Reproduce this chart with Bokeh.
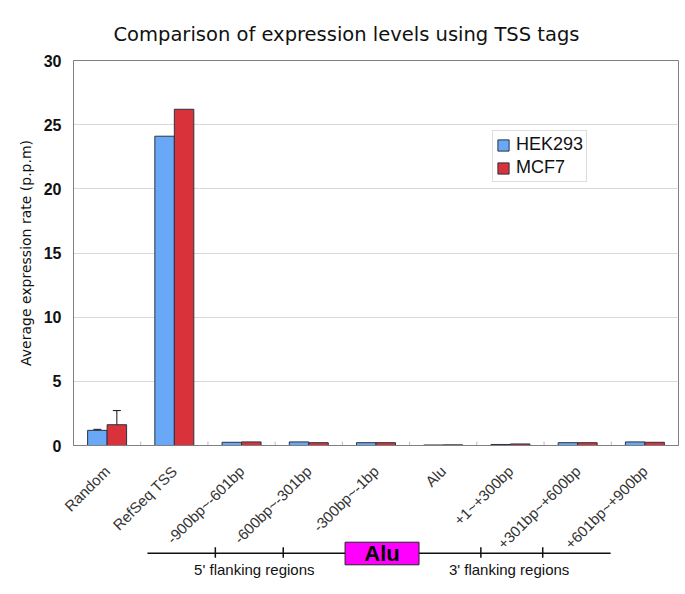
from bokeh.plotting import figure
from bokeh.models import (ColumnDataSource, FactorRange, Range1d, Whisker, TeeHead,
                          Legend, LegendItem, Title)
from bokeh.layouts import column
from bokeh.transform import dodge
from bokeh.core.properties import value
from bokeh.embed import file_html
from bokeh.resources import INLINE

# ---------------- data ----------------
categories = ["Random", "RefSeq TSS", "-900bp~-601bp", "-600bp~-301bp",
              "-300bp~-1bp", "Alu", "+1~+300bp", "+301bp~+600bp",
              "+601bp~+900bp"]
hek293 = [1.18, 24.1, 0.25, 0.28, 0.22, 0.04, 0.08, 0.22, 0.28]
mcf7 = [1.62, 26.2, 0.28, 0.22, 0.22, 0.05, 0.12, 0.22, 0.25]
# error bars (lower, upper); zero = no visible bar
hek293_err_low = [1.10, 0, 0, 0, 0, 0, 0, 0, 0]
hek293_err_high = [1.26, 0, 0, 0, 0, 0, 0, 0, 0]
mcf7_err_low = [0.47, 0, 0, 0, 0, 0, 0, 0, 0]
mcf7_err_high = [2.72, 0, 0, 0, 0, 0, 0, 0, 0]
y_ticks = [0, 5, 10, 15, 20, 25, 30]

series_names = ["HEK293", "MCF7"]
colors = ["#68A8F6", "#D9323B"]

W = 680
LEFT = 73
RIGHT = 2
H1 = 561
H2 = 50
D_OVERLAP = 25
OFF = 0.145
BW = 0.29

src = ColumnDataSource(dict(cats=categories, hek=hek293, mcf=mcf7))

xr = FactorRange(*categories, range_padding=0)
p = figure(x_range=xr, y_range=Range1d(0, 30), width=W, height=H1,
           output_backend="svg", toolbar_location=None,
           min_border_left=LEFT, min_border_right=RIGHT,
           min_border_top=60, min_border_bottom=10)

p.title = Title(text="Comparison of expression levels using TSS tags",
                text_font="DejaVu Sans", text_font_size="19.5px",
                text_font_style="normal", text_color="#111111",
                align="left", offset=40, standoff=29)

r1 = p.vbar(x=dodge("cats", -OFF, range=p.x_range), top="hek", width=BW,
            source=src, fill_color=colors[0], line_color="#2a3340", line_width=1)
r2 = p.vbar(x=dodge("cats", OFF, range=p.x_range), top="mcf", width=BW,
            source=src, fill_color=colors[1], line_color="#2a3340", line_width=1)

# error bars
for lows, highs, off in [(hek293_err_low, hek293_err_high, -OFF),
                         (mcf7_err_low, mcf7_err_high, OFF)]:
    idx = [i for i in range(len(categories)) if highs[i] > 0]
    es = ColumnDataSource(dict(base=[i + 0.5 + off for i in idx],
                               lower=[lows[i] for i in idx],
                               upper=[highs[i] for i in idx]))
    w = Whisker(base="base", lower="lower", upper="upper", source=es,
                line_color="#111111", line_width=1,
                upper_head=TeeHead(size=8, line_color="#111111", line_width=1),
                lower_head=TeeHead(size=8, line_color="#111111", line_width=1))
    p.add_layout(w)

# small category separator ticks
seps = list(range(1, len(categories)))
p.segment(x0=seps, x1=seps, y0=[0] * len(seps), y1=[0.3] * len(seps),
          line_color="#bbbbbb", line_width=1)

legend = Legend(items=[LegendItem(label=series_names[0], renderers=[r1]),
                       LegendItem(label=series_names[1], renderers=[r2])],
                location=(419, 263))
legend.label_text_font = "Liberation Sans"
legend.label_text_font_size = "18px"
legend.label_text_color = "#111111"
legend.glyph_width = 14
legend.glyph_height = 14
legend.label_height = 18
legend.spacing = 2
legend.padding = 3
legend.margin = 0
legend.label_standoff = 6
legend.border_line_color = "#bbbbbb"
legend.background_fill_alpha = 1
p.add_layout(legend, "center")

p.outline_line_color = "#808080"
p.xgrid.grid_line_color = None
p.ygrid.grid_line_color = "#d8d8d8"
p.ygrid.ticker = y_ticks

p.yaxis.ticker = y_ticks
p.yaxis.axis_label = "Average expression rate (p.p.m)"
p.yaxis.axis_label_text_font = "DejaVu Sans"
p.yaxis.axis_label_text_font_size = "14px"
p.yaxis.axis_label_text_font_style = "normal"
p.yaxis.axis_label_text_color = "#111111"
p.yaxis.axis_label_standoff = 7
p.yaxis.major_label_text_font = "Liberation Sans"
p.yaxis.major_label_text_font_size = "16px"
p.yaxis.major_label_text_font_style = "bold"
p.yaxis.major_label_text_color = "#111111"
p.yaxis.major_label_standoff = 12
p.yaxis.major_tick_out = 0
p.yaxis.major_tick_in = 0
p.yaxis.minor_tick_out = 0
p.yaxis.minor_tick_in = 0
p.yaxis.major_tick_line_color = None
p.yaxis.minor_tick_line_color = None
p.yaxis.axis_line_color = "#808080"

p.xaxis.major_label_orientation = 0.785398
p.xaxis.major_label_text_font = "Liberation Sans"
p.xaxis.major_label_text_font_size = "15px"
p.xaxis.major_label_text_color = "#333333"
p.xaxis.major_label_standoff = 17
p.xaxis.major_tick_line_color = None
p.xaxis.axis_line_color = "#808080"

# ---------------- lower diagram (overlaps the label area, transparent) ----------------
d = figure(x_range=xr, y_range=Range1d(0, H2), width=W, height=H2,
           output_backend="svg", toolbar_location=None,
           min_border_left=LEFT, min_border_right=RIGHT,
           min_border_top=0, min_border_bottom=0,
           margin=(-D_OVERLAP, 0, 0, 0))
d.axis.visible = False
d.grid.visible = False
d.outline_line_color = None
d.background_fill_color = None
d.border_fill_color = None

line_span = [1.10, 7.99]
tick_pos = [2.11, 3.12, 6.06, 6.98]
box_span = [4.04, 5.14]
y_line = H2 - 16.7
d.segment(x0=[line_span[0]], x1=[line_span[1]], y0=[y_line], y1=[y_line],
          line_color="#111111", line_width=1.6)
d.segment(x0=tick_pos, x1=tick_pos, y0=[y_line - 4.5] * 4, y1=[y_line + 6] * 4,
          line_color="#111111", line_width=1.5)
d.quad(left=[box_span[0]], right=[box_span[1]], bottom=[y_line - 11.6],
       top=[y_line + 11], fill_color="#FF00FF", line_color="#222222", line_width=1)
d.text(x=[sum(box_span) / 2], y=[y_line - 0.5], text=["Alu"],
       text_font=value("Liberation Sans"), text_font_size="22px",
       text_font_style="bold", text_align="center", text_baseline="middle",
       text_color="#000000")
d.text(x=[2.69, 6.48], y=[H2 - 33, H2 - 33],
       text=["5' flanking regions", "3' flanking regions"],
       text_font=value("Liberation Sans"), text_font_size="15px",
       text_align="center", text_baseline="alphabetic", text_color="#111111")

layout = column(p, d, spacing=0)
open("out.html", "w").write(file_html(layout, INLINE))
